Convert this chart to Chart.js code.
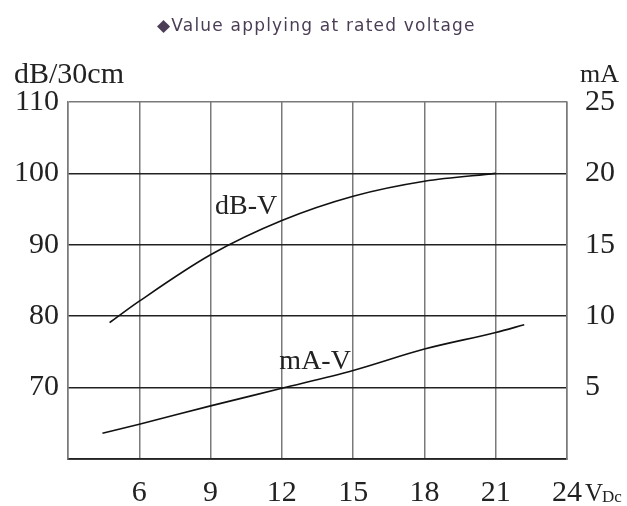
<!DOCTYPE html>
<html>
<head>
<meta charset="utf-8">
<script src="https://cdn.jsdelivr.net/npm/chart.js@4"></script>
<style>
html,body{margin:0;padding:0;background:#fff;}
#wrap{width:627px;height:506px;position:relative;}
</style>
</head>
<body>
<div id="wrap"><canvas id="c" width="627" height="506"></canvas></div>
<script>
// ---- data ----
const titleText = "\u25C6Value applying at rated voltage";
const leftTitle = "dB/30cm";
const rightTitle = "mA";
const xTicks = [3, 6, 9, 12, 15, 18, 21, 24];
const xUnit = "V";
const xUnitSub = "Dc";
const dbVolts = [4.75, 6, 9, 12, 15, 18, 21];
const dbValues = [79.1, 82.1, 88.6, 93.4, 96.8, 98.9, 100];
const maVolts = [4.45, 6, 9, 12, 15, 18, 21, 22.2];
const maValues = [1.8, 2.43, 3.72, 4.95, 6.2, 7.7, 8.86, 9.4];
const dbLabel = "dB-V";
const maLabel = "mA-V";

const serif = "'Liberation Serif', 'DejaVu Serif', serif";

const textPlugin = {
  id: 'texts',
  afterDraw(chart) {
    const ctx = chart.ctx;
    const x = chart.scales.x, yL = chart.scales.yL, yR = chart.scales.yR;
    ctx.save();
    // title
    ctx.fillStyle = '#4a3d55';
    ctx.font = "17px 'DejaVu Sans', sans-serif";
    ctx.letterSpacing = '1.2px';
    ctx.textAlign = 'left';
    ctx.textBaseline = 'middle';
    ctx.fillText(titleText, 157, 27);
    ctx.letterSpacing = '0px';
    // axis titles
    ctx.fillStyle = '#222';
    ctx.font = "30px " + serif;
    ctx.textAlign = 'left';
    ctx.fillText(leftTitle, 14, 75);
    ctx.font = "26px " + serif;
    ctx.fillText(rightTitle, 580, 75);
    // curve labels
    ctx.textAlign = 'center';
    ctx.font = "28px " + serif;
    ctx.fillText(dbLabel, x.getPixelForValue(10.5), yL.getPixelForValue(95.4));
    ctx.fillText(maLabel, x.getPixelForValue(13.4), yR.getPixelForValue(6.8));
    // x unit
    const px24 = x.getPixelForValue(24);
    ctx.textAlign = 'left';
    ctx.textBaseline = 'alphabetic';
    ctx.font = "25px " + serif;
    ctx.fillText(xUnit, px24 + 18, 501);
    ctx.font = "17px " + serif;
    ctx.fillText(xUnitSub, px24 + 35, 502);
    ctx.restore();
  }
};

new Chart(document.getElementById('c'), {
  type: 'scatter',
  data: {
    datasets: [
      {
        data: dbVolts.map((v, i) => ({x: v, y: dbValues[i]})),
        yAxisID: 'yL',
        showLine: true,
        borderColor: '#111',
        borderWidth: 1.6,
        pointRadius: 0,
        cubicInterpolationMode: 'monotone',
        fill: false
      },
      {
        data: maVolts.map((v, i) => ({x: v, y: maValues[i]})),
        yAxisID: 'yR',
        showLine: true,
        borderColor: '#111',
        borderWidth: 1.6,
        pointRadius: 0,
        cubicInterpolationMode: 'monotone',
        fill: false
      }
    ]
  },
  options: {
    responsive: false,
    animation: false,
    devicePixelRatio: 1,
    layout: {padding: {top: 102, left: 0, right: 0, bottom: 0}},
    plugins: {legend: {display: false}, tooltip: {enabled: false}, title: {display: false}},
    scales: {
      x: {
        type: 'linear',
        min: 3, max: 24,
        afterBuildTicks(s) { s.ticks = xTicks.map(v => ({value: v})); },
        afterFit(s) { s.height = 47; },
        grid: {color: '#7a7a7a', lineWidth: 1.5, drawTicks: false},
        border: {color: '#222', width: 1.8},
        ticks: {
          padding: 16,
          color: '#222',
          font: {family: serif, size: 30},
          callback: v => (v === 3 ? '' : String(v))
        }
      },
      yL: {
        type: 'linear',
        position: 'left',
        min: 60, max: 110,
        ticks: {
          stepSize: 10,
          padding: 9,
          color: '#222',
          font: {family: serif, size: 30},
          callback: v => (v === 60 ? '' : String(v))
        },
        afterFit(s) { s.width = 68; },
        grid: {
          color: ctx => (ctx.tick && ctx.tick.value === 110 ? '#7a7a7a' : '#222'),
          lineWidth: 1.5,
          drawTicks: false
        },
        border: {color: '#7a7a7a', width: 1.5}
      },
      yR: {
        type: 'linear',
        position: 'right',
        min: 0, max: 25,
        ticks: {
          stepSize: 5,
          padding: 18,
          color: '#222',
          font: {family: serif, size: 30},
          callback: v => (v === 0 ? '' : String(v))
        },
        afterFit(s) { s.width = 60; },
        grid: {display: false, drawTicks: false},
        border: {color: '#7a7a7a', width: 1.5}
      }
    }
  },
  plugins: [textPlugin]
});
</script>
</body>
</html>
